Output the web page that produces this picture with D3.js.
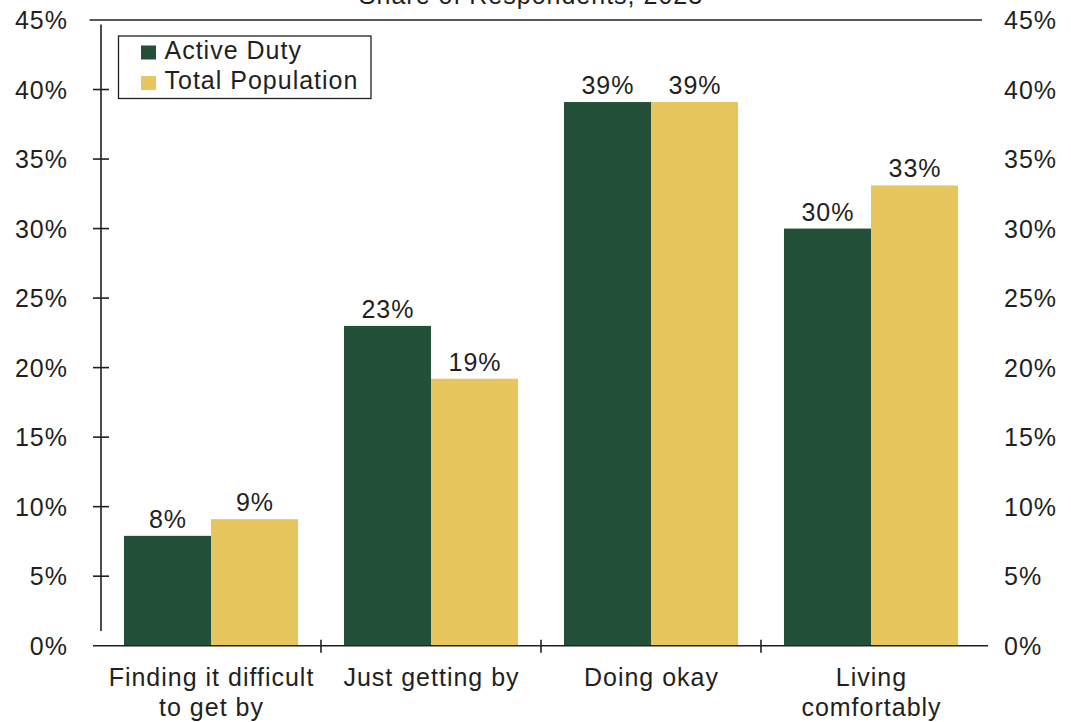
<!DOCTYPE html>
<html>
<head>
<meta charset="utf-8">
<script src="https://cdn.jsdelivr.net/npm/d3@7"></script>
<style>
	body { margin: 0; background: #fff; }
	text { font-family: "Liberation Sans", Arial, Helvetica, sans-serif; fill: #231f20; letter-spacing: 1px; }
</style>
</head>
<body>
<script>

//	data
var categories = [["Finding it difficult", "to get by"], ["Just getting by"], ["Doing okay"], ["Living", "comfortably"]];
var seriesNames = ["Active Duty", "Total Population"];
var activeDuty = [7.9, 23.0, 39.1, 30.0];
var totalPopulation = [9.1, 19.2, 39.1, 33.1];
var yTicks = [0, 5, 10, 15, 20, 25, 30, 35, 40, 45];
var title = "Share of Respondents, 2023";

var colors = ["#244f38", "#e8c65e"];
var fontSize = 25;

var width = 1071, height = 722;
var plot = {left: 101, right: 981, top: 20, bottom: 645.7};

var svg = d3.select("body")
	.append("svg")
	  .attr("width", width)
	  .attr("height", height);

var catIdx = categories.map(function(d, i) { return i; });

var x = d3.scaleBand()
	.domain(catIdx)
	.range([plot.left, plot.right])
	.padding(0);

var xSub = d3.scaleBand()
	.domain(seriesNames)
	.range([0, x.bandwidth()])
	.paddingInner(0)
	.paddingOuter(0.264);

var y = d3.scaleLinear()
	.domain([0, 45])
	.range([plot.bottom, plot.top]);

//	title (cut off at the top like the original)
svg.append("text")
	.attr("x", 531)
	.attr("y", 3.5)
	.attr("text-anchor", "middle")
	.style("font-size", fontSize + "px")
	.text(title);

//	bars
var rows = catIdx.map(function(i) {
	return [{s: seriesNames[0], v: activeDuty[i], c: colors[0]},
	        {s: seriesNames[1], v: totalPopulation[i], c: colors[1]}];
});

var groups = svg.append("g")
	.selectAll("g")
	.data(rows)
	.enter().append("g")
	  .attr("transform", function(d, i) { return "translate(" + x(i) + ",0)"; });

groups.selectAll("rect")
	.data(function(d) { return d; })
	.enter().append("rect")
	  .attr("x", function(d) { return xSub(d.s); })
	  .attr("width", xSub.bandwidth())
	  .attr("y", function(d) { return y(d.v); })
	  .attr("height", function(d) { return y(0) - y(d.v); })
	  .attr("fill", function(d) { return d.c; });

groups.selectAll("text")
	.data(function(d) { return d; })
	.enter().append("text")
	  .attr("x", function(d) { return xSub(d.s) + xSub.bandwidth() / 2 + 0.5; })
	  .attr("y", function(d) { return y(d.v) - 8; })
	  .attr("text-anchor", "middle")
	  .style("font-size", fontSize + "px")
	  .text(function(d) { return Math.round(d.v) + "%"; });

//	left axis: vertical line that stops short of the baseline
var axisG = svg.append("g").attr("stroke", "#231f20").attr("stroke-width", 1.6);

axisG.append("line")
	.attr("x1", plot.left).attr("x2", plot.left)
	.attr("y1", 24.5).attr("y2", 631);

axisG.selectAll(".ytick")
	.data(yTicks.filter(function(t) { return t > 0 && t < 45; }))
	.enter().append("line")
	  .attr("x1", plot.left - 8).attr("x2", plot.left + 8)
	  .attr("y1", function(d) { return y(d); })
	  .attr("y2", function(d) { return y(d); });

//	top rule at 45% and baseline
axisG.append("line")
	.attr("x1", 89.5).attr("x2", 982)
	.attr("y1", y(45)).attr("y2", y(45));

axisG.append("line")
	.attr("x1", 93).attr("x2", 988)
	.attr("y1", y(0)).attr("y2", y(0));

//	category separators
axisG.selectAll(".xtick")
	.data(catIdx.slice(1))
	.enter().append("line")
	  .attr("x1", function(d) { return x(d); })
	  .attr("x2", function(d) { return x(d); })
	  .attr("y1", y(0) - 6).attr("y2", y(0) + 7);

//	tick labels, both sides
svg.append("g").selectAll("text")
	.data(yTicks)
	.enter().append("text")
	  .attr("x", 68)
	  .attr("y", function(d) { return y(d); })
	  .attr("dy", "0.36em")
	  .attr("text-anchor", "end")
	  .style("font-size", fontSize + "px")
	  .text(function(d) { return d + "%"; });

svg.append("g").selectAll("text")
	.data(yTicks)
	.enter().append("text")
	  .attr("x", 1004)
	  .attr("y", function(d) { return y(d); })
	  .attr("dy", "0.36em")
	  .attr("text-anchor", "start")
	  .style("font-size", fontSize + "px")
	  .text(function(d) { return d + "%"; });

//	category labels
var catLabels = svg.append("g").selectAll("text")
	.data(categories)
	.enter().append("text")
	  .attr("x", function(d, i) { return x(i) + x.bandwidth() / 2 + 0.5; })
	  .attr("y", 686)
	  .attr("text-anchor", "middle")
	  .style("font-size", fontSize + "px");

catLabels.selectAll("tspan")
	.data(function(d) { return d; })
	.enter().append("tspan")
	  .attr("x", function() { return d3.select(this.parentNode).attr("x"); })
	  .attr("dy", function(d, i) { return i === 0 ? 0 : 30; })
	  .text(function(d) { return d; });

//	legend
var legend = svg.append("g");
legend.append("rect")
	.attr("x", 118.5).attr("y", 36)
	.attr("width", 252.5).attr("height", 62.5)
	.attr("fill", "#fff")
	.attr("stroke", "#231f20")
	.attr("stroke-width", 1.3);

var legendItem = legend.selectAll(".item")
	.data(seriesNames)
	.enter().append("g")
	  .attr("transform", function(d, i) { return "translate(141," + (45.5 + i * 30.5) + ")"; });

legendItem.append("rect")
	.attr("width", 15).attr("height", 14)
	.attr("fill", function(d, i) { return colors[i]; });

legendItem.append("text")
	.attr("x", 23.5)
	.attr("y", 13)
	.style("font-size", fontSize + "px")
	.text(function(d) { return d; });

</script>
</body>
</html>
